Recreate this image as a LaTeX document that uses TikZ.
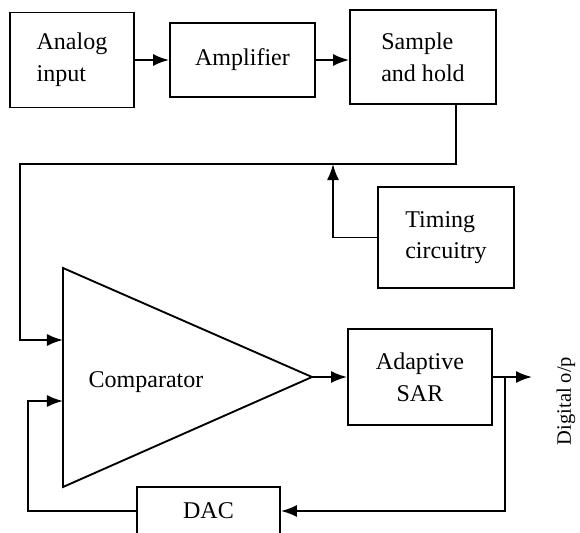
\documentclass[tikz,border=0pt]{standalone}
\usepackage{fontspec}
\setmainfont{Liberation Serif}
\usetikzlibrary{arrows.meta, positioning}

\begin{document}
\begin{tikzpicture}[
  x=0.03cm, y=-0.03cm,
  every node/.style={font=\fontsize{20.5}{27}\selectfont},
  block/.style={draw, line width=1.6pt, align=left, inner sep=0pt},
  wire/.style={line width=1.6pt},
  arr/.style={line width=1.6pt, -{Latex[length=4.8mm, width=3.6mm]}}
]
  \clip (0,0) rectangle (580,533);

  \node[block, minimum width=3.72cm, minimum height=2.85cm] (ain) at (72,60) {Analog\\input};
  \node[block, minimum width=4.35cm, minimum height=2.22cm, align=center] (amp) at (242.5,60) {Amplifier};
  \node[block, minimum width=4.38cm, minimum height=2.82cm] (snh) at (423,57) {Sample\\and hold};
  \node[block, minimum width=4.08cm, minimum height=3.03cm] (tim) at (446,237.5) {Timing\\circuitry};
  \node[block, minimum width=4.32cm, minimum height=2.88cm, align=center] (sar) at (420,377) {Adaptive\\SAR};
  \node[block, minimum width=4.29cm, minimum height=1.44cm, align=center] (dac) at (208.5,511) {DAC};

  % comparator
  \coordinate (cmp-top) at (63,268);
  \coordinate (cmp-bot) at (63,487);
  \coordinate (cmp-out) at (312,377);
  \coordinate (cmp-in1) at (63,340);
  \coordinate (cmp-in2) at (63,401);
  \draw[wire] (cmp-top) -- (cmp-out) -- (cmp-bot) -- cycle;
  \node (cmplbl) at (146,382) {Comparator};

  \node[rotate=90, font=\fontsize{17.5}{20}\selectfont] (dig) at (566,401) {Digital o/p};

  \coordinate (bus-r) at (456,164);
  \coordinate (bus-l) at (20,164);
  \coordinate (clk) at (333,164);
  \coordinate (dout) at (532,377);
  \coordinate (fb-r) at (505,377);
  \coordinate (fb-l) at (28,401);

  \draw[arr] (ain.east) -- (amp.west);
  \draw[arr] (amp.east) -- (amp.east -| snh.west);
  \draw[arr] (snh.south -| bus-r) -- (bus-r) -- (bus-l) |- (cmp-in1);
  \draw[arr] (tim.west) -| (clk);
  \draw[arr] (cmp-out) -- (sar.west);
  \draw[arr] (sar.east) -- (dout);
  \draw[arr] (fb-r) |- (dac.east);
  \draw[arr] (dac.west) -| (fb-l) -- (cmp-in2);
\end{tikzpicture}
\end{document}
